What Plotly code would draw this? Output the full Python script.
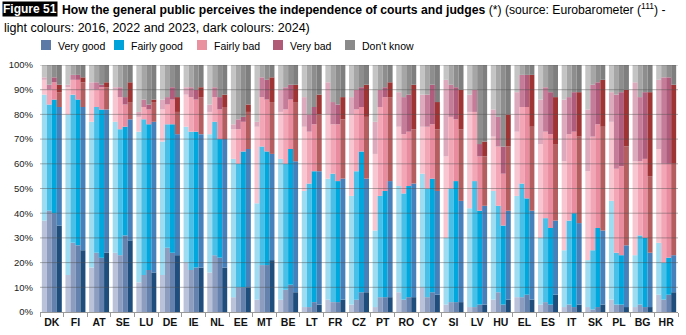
import plotly.graph_objects as go

countries = ["DK", "FI", "AT", "SE", "LU", "DE", "IE", "NL", "EE", "MT", "BE", "LT", "FR", "CZ",
             "PT", "RO", "CY", "SI", "LV", "HU", "EL", "ES", "IT", "SK", "PL", "BG", "HR"]
years = ["2016", "2022", "2023", "2024"]
categories = ["Very good", "Fairly good", "Fairly bad", "Very bad", "Don't know"]

# 2016
vg_2016 = [37, 15, 18, 24, 12, 15, 20, 16, 6, 5, 5, 2, 5, 3, 2, 8, 10, 3, 2, 5, 6, 3, 2, 2, 5, 2, 7]
fg_2016 = [51, 65, 59, 53, 61, 54, 55, 56, 56, 39, 57, 47, 49, 44, 31, 43, 46, 27, 40, 44, 41, 27, 23, 19, 40, 21, 21]
fb_2016 = [6, 11, 13, 13, 6, 13, 13, 9, 12, 31, 19, 26, 26, 33, 31, 24, 19, 33, 39, 22, 26, 38, 36, 36, 32, 38, 38]
vb_2016 = [1, 1, 3, 1, 2, 4, 3, 3, 2, 2, 9, 12, 13, 7, 13, 14, 13, 31, 7, 11, 16, 18, 25, 25, 12, 32, 28]
dk_2016 = [5, 8, 7, 9, 19, 14, 9, 16, 24, 23, 10, 13, 7, 13, 23, 11, 12, 6, 12, 18, 11, 14, 14, 18, 11, 7, 6]
# 2022
vg_2022 = [41, 28, 24, 23, 15, 26, 17, 23, 10, 19, 9, 2, 4, 5, 6, 5, 6, 4, 2, 8, 6, 4, 3, 1, 3, 3, 5]
fg_2022 = [43, 60, 59, 51, 63, 50, 56, 54, 50, 48, 51, 50, 52, 52, 41, 43, 44, 46, 51, 35, 46, 34, 34, 24, 21, 28, 15]
fb_2022 = [6, 6, 7, 13, 5, 8, 14, 10, 14, 20, 22, 21, 20, 25, 36, 24, 25, 29, 28, 24, 31, 35, 35, 46, 34, 30, 40]
vb_2022 = [2, 2, 3, 4, 3, 3, 4, 4, 4, 8, 9, 7, 9, 8, 7, 15, 13, 13, 9, 12, 13, 18, 15, 21, 30, 26, 35]
dk_2022 = [8, 4, 7, 9, 14, 13, 9, 9, 22, 5, 9, 20, 15, 10, 10, 13, 12, 8, 10, 21, 4, 9, 13, 8, 12, 13, 5]
# 2023
vg_2023 = [40, 27, 22, 31, 17, 24, 18, 22, 10, 19, 11, 4, 4, 8, 6, 6, 8, 4, 3, 3, 7, 3, 2, 2, 3, 2, 7]
fg_2023 = [46, 59, 60, 44, 59, 52, 55, 48, 55, 46, 55, 53, 49, 57, 43, 45, 46, 49, 38, 32, 39, 31, 38, 32, 20, 28, 15]
fb_2023 = [7, 8, 9, 9, 6, 10, 13, 12, 12, 21, 20, 19, 23, 18, 38, 22, 22, 25, 22, 21, 37, 38, 33, 42, 36, 32, 38]
vb_2023 = [2, 2, 1, 3, 2, 5, 4, 5, 2, 8, 6, 7, 8, 8, 4, 15, 16, 13, 5, 11, 13, 17, 16, 17, 30, 27, 35]
dk_2023 = [5, 4, 8, 13, 16, 9, 10, 13, 21, 6, 8, 17, 16, 9, 9, 12, 8, 9, 32, 33, 4, 11, 11, 7, 11, 11, 5]
# 2024
vg_2024 = [35, 25, 24, 29, 16, 23, 18, 18, 10, 21, 8, 3, 5, 8, 6, 6, 7, 4, 3, 5, 5, 7, 3, 3, 2, 2, 8]
fg_2024 = [48, 58, 58, 49, 61, 49, 54, 52, 56, 43, 53, 54, 49, 46, 47, 46, 42, 41, 40, 36, 36, 30, 33, 30, 25, 22, 15]
fb_2024 = [6, 10, 9, 7, 8, 9, 15, 13, 15, 21, 24, 23, 24, 25, 34, 22, 25, 29, 20, 26, 34, 31, 35, 42, 40, 31, 37]
vb_2024 = [3, 2, 2, 8, 1, 6, 4, 5, 3, 10, 7, 8, 9, 13, 6, 18, 11, 16, 6, 13, 21, 19, 18, 19, 23, 34, 32]
dk_2024 = [8, 5, 7, 7, 14, 13, 9, 12, 16, 5, 8, 12, 13, 8, 7, 8, 15, 10, 31, 20, 4, 13, 11, 6, 10, 11, 8]

series = {
    "2016": [vg_2016, fg_2016, fb_2016, vb_2016, dk_2016],
    "2022": [vg_2022, fg_2022, fb_2022, vb_2022, dk_2022],
    "2023": [vg_2023, fg_2023, fb_2023, vb_2023, dk_2023],
    "2024": [vg_2024, fg_2024, fb_2024, vb_2024, dk_2024],
}
colors = {
    "2016": ["#b9c2d9", "#9ddcf1", "#f8c6d0", "#dcaabc", "#c4c4c4"],
    "2022": ["#8c9dc0", "#48c0e8", "#f2a6b6", "#c57c98", "#a6a6a6"],
    "2023": ["#6482ad", "#00a8de", "#e98ca0", "#b05c7c", "#8e8e8e"],
    "2024": ["#1f4e7d", "#4681bb", "#b45e60", "#9e3434", "#7f7f7f"],
}
legend_colors = ["#5b7aa6", "#00a4da", "#ea91a0", "#b05a78", "#8a8a8a"]

W, H = 686, 335
ML, MR, MT, MB = 40, 8, 65, 23
PW, PH = W - ML - MR, H - MT - MB


def px2x(px):
    return (px - ML) / PW


def py2y(py):
    return (H - MB - py) / PH


fig = go.Figure()
for yr in years:
    base = [0] * len(countries)
    for k, cat in enumerate(categories):
        vals = series[yr][k]
        fig.add_trace(go.Bar(
            x=countries, y=vals, base=base, offsetgroup=yr, name=cat,
            marker=dict(color=colors[yr][k], line=dict(width=0)),
            showlegend=False,
        ))
        base = [b + v for b, v in zip(base, vals)]

shapes = []
for v in range(10, 101, 10):
    shapes.append(dict(type="line", xref="paper", yref="y", x0=0, x1=1, y0=v, y1=v,
                       line=dict(color="rgba(80,80,80,0.45)", width=1), layer="above"))

FONT = "Liberation Sans, Arial, sans-serif"
annotations = []
# Title
annotations.append(dict(xref="paper", yref="paper", x=px2x(2), y=py2y(9), xanchor="left", yanchor="middle",
                        text="<b>Figure 51</b>", showarrow=False, bgcolor="#000000", borderpad=0,
                        font=dict(family=FONT, size=12, color="#ffffff")))
annotations.append(dict(xref="paper", yref="paper", x=px2x(60), y=py2y(9), xanchor="left", yanchor="middle",
                        text="<b>How the general public perceives the independence of courts and judges</b> (*) (source: Eurobarometer (<sup>111</sup>) -",
                        showarrow=False, font=dict(family=FONT, size=12.2, color="#000000")))
annotations.append(dict(xref="paper", yref="paper", x=px2x(2), y=py2y(28), xanchor="left", yanchor="middle",
                        text="light colours: 2016, 2022 and 2023, dark colours: 2024)",
                        showarrow=False, font=dict(family=FONT, size=12.5, color="#000000")))

# Legend
sq_x = [41, 114, 197, 273, 345]
for k, cat in enumerate(categories):
    shapes.append(dict(type="rect", xref="paper", yref="paper",
                       x0=px2x(sq_x[k]), x1=px2x(sq_x[k] + 10), y0=py2y(50), y1=py2y(40),
                       fillcolor=legend_colors[k], line=dict(width=0)))
    annotations.append(dict(xref="paper", yref="paper", x=px2x(sq_x[k] + 15), y=py2y(46),
                            xanchor="left", yanchor="middle", text=cat, showarrow=False,
                            font=dict(family=FONT, size=10.5, color="#000000")))

fig.update_layout(
    width=W, height=H,
    margin=dict(l=ML, r=MR, t=MT, b=MB),
    paper_bgcolor="white", plot_bgcolor="white",
    barmode="group", bargap=0.155, bargroupgap=0,
    shapes=shapes, annotations=annotations,
    showlegend=False,
    xaxis=dict(type="category", tickson="boundaries", ticks="outside", ticklen=4,
               tickcolor="#9a9a9a", showline=True, linecolor="#9a9a9a", showgrid=False,
               tickangle=0, automargin=False,
               tickfont=dict(family=FONT, size=10.5, color="#111111"),
               tickprefix="<b>", ticksuffix="</b>"),
    yaxis=dict(range=[0, 100], dtick=10, ticksuffix="%", showgrid=False, zeroline=False,
               showline=False, ticks="", ticklabelstandoff=6, automargin=False,
               tickfont=dict(family=FONT, size=9.5, color="#222222")),
)

fig.write_html("out.html")
